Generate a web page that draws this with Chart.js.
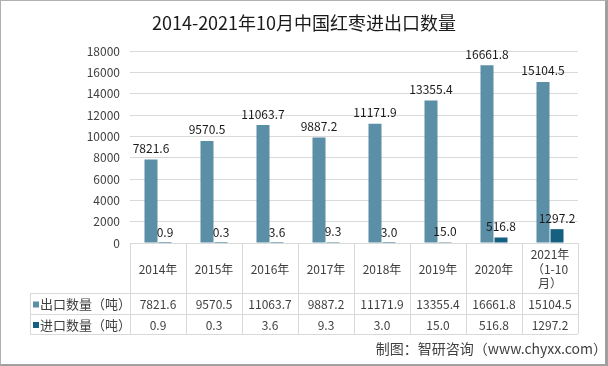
<!DOCTYPE html>
<html>
<head>
<meta charset="utf-8">
<script src="https://cdn.jsdelivr.net/npm/chart.js@4"></script>
<style>
  html, body { margin: 0; padding: 0; background: #fff; }
  #wrap {
    position: relative; width: 608px; height: 366px; box-sizing: border-box;
    border-left: 1px solid #b0b0b0; border-top: 1px solid #b0b0b0;
    border-right: 3px solid #a0a0a0; border-bottom: 2px solid #a0a0a0;
  }
  canvas { position: absolute; left: -1px; top: -1px; }
</style>
</head>
<body>
<div id="wrap"><canvas id="chart" width="608" height="366"></canvas></div>
<script>
// 数据
const chartTitle = '2014-2021年10月中国红枣进出口数量';
const categories = ['2014年', '2015年', '2016年', '2017年', '2018年', '2019年', '2020年', ['2021年', '（1-10', '月）']];
const exportQty = [7821.6, 9570.5, 11063.7, 9887.2, 11171.9, 13355.4, 16661.8, 15104.5];
const importQty = [0.9, 0.3, 3.6, 9.3, 3.0, 15.0, 516.8, 1297.2];
const seriesNames = ['出口数量（吨）', '进口数量（吨）'];
const seriesColors = ['#5b8ea7', '#155f80'];

const FONT = '"Noto Sans CJK SC", "Noto Sans", sans-serif';
const TEXT = '#404040';
const LINE = '#d9d9d9';

// 标题（居中于整张图）
const titleText = {
    id: 'titleText',
    afterDraw(chart) {
        const ctx = chart.ctx;
        ctx.save();
        ctx.font = '18px ' + FONT;
        ctx.fillStyle = '#1a1a1a';
        ctx.textAlign = 'center';
        ctx.textBaseline = 'middle';
        ctx.fillText(chartTitle, 304, 23);
        ctx.restore();
    }
};

// 柱顶数值标签
const valueLabels = {
    id: 'valueLabels',
    afterDatasetsDraw(chart) {
        const ctx = chart.ctx;
        ctx.save();
        ctx.font = '12px ' + FONT;
        ctx.fillStyle = '#1a1a1a';
        ctx.textAlign = 'center';
        ctx.textBaseline = 'bottom';
        chart.data.datasets.forEach((ds, i) => {
            chart.getDatasetMeta(i).data.forEach((bar, j) => {
                ctx.fillText(ds.data[j].toFixed(1), bar.x, bar.y - 5);
            });
        });
        ctx.restore();
    }
};

// 底部数据表
const dataTable = {
    id: 'dataTable',
    afterDraw(chart) {
        const ctx = chart.ctx;
        const x = chart.scales.x;
        const area = chart.chartArea;
        const top = area.bottom;
        const rows = [top, top + 50, top + 71, top + 91];
        const labelLeft = 30;
        const step = x.getPixelForValue(1) - x.getPixelForValue(0);
        ctx.save();
        ctx.strokeStyle = LINE;
        ctx.lineWidth = 1;
        ctx.beginPath();
        ctx.moveTo(area.left, rows[0] + 0.5); ctx.lineTo(area.right, rows[0] + 0.5);
        for (let r = 1; r < rows.length; r++) {
            ctx.moveTo(labelLeft, rows[r] + 0.5); ctx.lineTo(area.right, rows[r] + 0.5);
        }
        ctx.moveTo(labelLeft + 0.5, rows[1]); ctx.lineTo(labelLeft + 0.5, rows[3]);
        for (let i = 0; i <= categories.length; i++) {
            const px = Math.round(x.getPixelForValue(i) - step / 2) + 0.5;
            ctx.moveTo(px, rows[0]); ctx.lineTo(px, rows[3]);
        }
        ctx.stroke();

        ctx.font = '12px ' + FONT;
        ctx.fillStyle = TEXT;
        ctx.textAlign = 'center';
        ctx.textBaseline = 'middle';
        categories.forEach((c, i) => {
            const lines = Array.isArray(c) ? c : [c];
            const cx = x.getPixelForValue(i);
            const mid = (rows[0] + rows[1]) / 2 + 1;
            lines.forEach((t, k) => {
                ctx.fillText(t, cx, mid + (k - (lines.length - 1) / 2) * 14.5);
            });
        });
        [exportQty, importQty].forEach((vals, r) => {
            const cy = (rows[r + 1] + rows[r + 2]) / 2 + 1;
            vals.forEach((v, i) => {
                ctx.fillText(v.toFixed(1), x.getPixelForValue(i), cy);
            });
            ctx.fillStyle = seriesColors[r];
            ctx.fillRect(labelLeft + 3, cy - 3, 6, 6);
            ctx.fillStyle = TEXT;
            ctx.textAlign = 'left';
            ctx.font = '13px ' + FONT;
            ctx.fillText(seriesNames[r], labelLeft + 10, cy);
            ctx.font = '12px ' + FONT;
            ctx.textAlign = 'center';
        });

        ctx.font = '14px ' + FONT;
        ctx.textAlign = 'right';
        ctx.fillText('制图：智研咨询（www.chyxx.com）', 607, 349);
        ctx.restore();
    }
};

new Chart(document.getElementById('chart'), {
    type: 'bar',
    data: {
        labels: categories,
        datasets: [
            {
                label: seriesNames[0],
                data: exportQty,
                backgroundColor: seriesColors[0],
                categoryPercentage: 0.5,
                barPercentage: 0.93
            },
            {
                label: seriesNames[1],
                data: importQty,
                backgroundColor: seriesColors[1],
                categoryPercentage: 0.5,
                barPercentage: 0.93
            }
        ]
    },
    options: {
        responsive: false,
        animation: false,
        layout: { padding: { left: 0, right: 30, top: 51, bottom: 123 } },
        scales: {
            x: {
                display: false
            },
            y: {
                min: 0,
                max: 18000,
                afterFit(scale) { scale.width = 130; },
                ticks: {
                    stepSize: 2000,
                    padding: 10,
                    color: TEXT,
                    font: { family: FONT, size: 12 },
                    callback: (v) => String(v)
                },
                grid: { color: LINE, drawTicks: false },
                border: { display: false }
            }
        },
        plugins: {
            legend: { display: false },
            tooltip: { enabled: false },
            title: { display: false }
        }
    },
    plugins: [valueLabels, dataTable, titleText]
});
</script>
</body>
</html>
